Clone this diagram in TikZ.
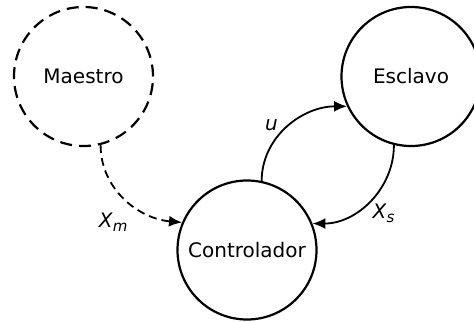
\documentclass[tikz,border=0pt]{standalone}
\usepackage{fontspec}
\setmainfont{DejaVu Sans}
\usetikzlibrary{arrows.meta, positioning}

\newcommand{\sig}[2]{\textit{#1}\raisebox{-0.2em}{\fontsize{15pt}{15pt}\selectfont\textit{#2}}}

\begin{document}
\begin{tikzpicture}[
    node distance=2cm,
    font=\fontsize{20pt}{24pt}\selectfont,
    state/.style={circle, draw, line width=2.2pt, minimum size=139pt, inner sep=0pt},
    ghost/.style={state, dash pattern=on 12pt off 7pt},
    line/.style={draw, -{Latex[length=13pt,width=11pt]}, line width=1.8pt},
    ref/.style={line, dash pattern=on 8pt off 5pt}
]
    \useasboundingbox (0,0) rectangle (474pt,322pt);

    % States
    \node [state] (controlador) at (247pt,72pt) {Controlador};
    \node [ghost, on grid, above left=173.5pt and 163.5pt of controlador] (maestro) {Maestro};
    \node [state, on grid, above right=173.5pt and 164pt of controlador] (esclavo) {Esclavo};

    % Signals
    \path [ref] (maestro.-76) to [out=-90, in=175] node [pos=0.6, below left, inner sep=6pt] {\sig{X}{m}} (controlador.157);
    \path [line] (controlador.78) to [out=90, in=180] node [pos=0.42, above left, inner sep=2pt] {\textit{u}} (esclavo.205);
    \path [line] (esclavo.-104) to [out=-90, in=0] node [pos=0.5, below right, inner sep=2pt] {\sig{X}{s}} (controlador.22);
\end{tikzpicture}
\end{document}
